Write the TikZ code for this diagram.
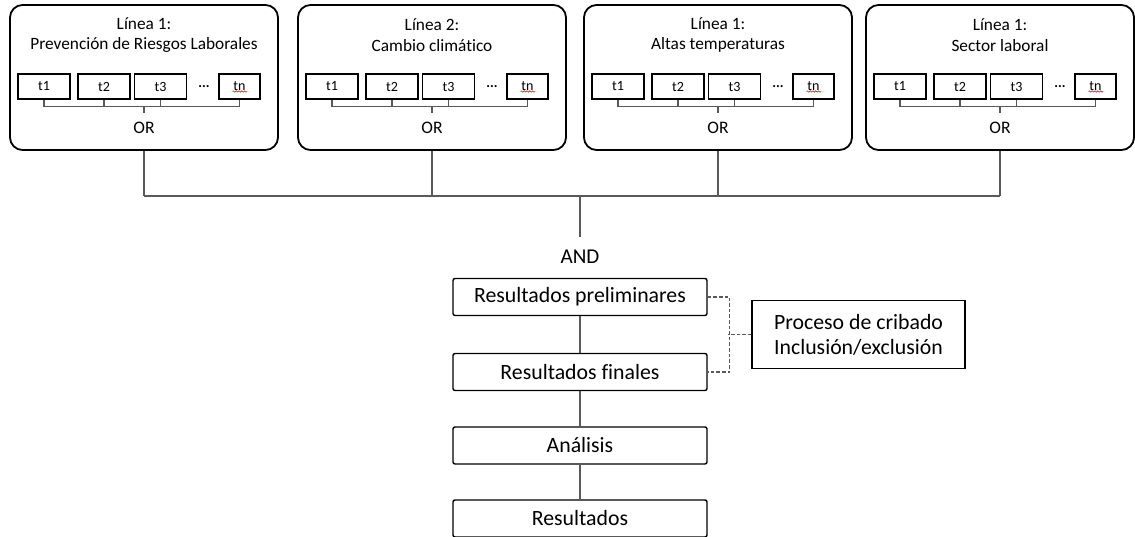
\documentclass[tikz,border=0pt]{standalone}
\usepackage{fontspec}
\setmainfont{Carlito}[Ligatures=CommonOff]
\usetikzlibrary{decorations.pathmorphing}

\definecolor{linegray}{HTML}{595959}

\tikzset{
  linea/.style={rectangle, draw, rounded corners=9pt, line width=1.3pt,
    minimum width=6.7cm, minimum height=3.625cm},
  termino/.style={rectangle, draw, line width=0.8pt, minimum width=1.3cm,
    minimum height=0.625cm, inner sep=0pt, font=\fontsize{10}{12}\selectfont},
  paso/.style={rectangle, draw, rounded corners=1.5pt, line width=1pt,
    minimum width=6.35cm, minimum height=0.925cm, inner sep=0pt,
    font=\fontsize{15.5}{18}\selectfont},
  conector/.style={draw=linegray, line width=1pt},
  cribado/.style={conector, dashed, dash pattern=on 2.5pt off 1.5pt},
}

\begin{document}
\begin{tikzpicture}[x=0.025cm, y=-0.025cm]
  \useasboundingbox (0,0) rectangle (1135,537);

  % search lines with their terms
  \foreach \i/\cx/\tl/\tt in {1/144/Línea 1:/Prevención de Riesgos Laborales,
                              2/432/Línea 2:/Cambio climático,
                              3/718/Línea 1:/Altas temperaturas,
                              4/1000/Línea 1:/Sector laboral} {
    \node (p\i) at (\cx, 77.5) [linea] {};
    \node (p\i title) at (\cx, 35) [align=center, font=\fontsize{12.3}{14.5}\selectfont] {\tl\\\tt};

    \node (p\i t1) at (\cx-100, 86.5) [termino] {t1};
    \node (p\i t2) at (\cx-40, 86.5) [termino] {t2};
    \node (p\i t3) at (\cx+16.5, 86.5) [termino] {t3};
    \node (p\i dots) at (\cx+60, 86.5) [font=\fontsize{10}{12}\selectfont\bfseries] {...};
    \node (p\i tn) at (\cx+95.5, 86.5) [termino, minimum width=1.025cm] {tn};
    \draw[red, line width=0.4pt, decorate,
          decoration={snake, amplitude=0.5pt, segment length=2pt}]
      (\cx+88.5, 91.5) -- (\cx+103, 91.5);

    \draw[conector] (p\i t1.south) -- ++(0,7) -| (p\i tn.south);
    \draw[conector] (p\i t2.south) -- ++(0,7);
    \draw[conector] (p\i t3.south) -- ++(0,7);
    \draw[conector] (\cx, 106) -- (\cx, 113);
    \node (p\i or) at (\cx, 128) [font=\fontsize{12.5}{15}\selectfont] {OR};
  }

  % AND junction
  \coordinate (j) at (580, 196);
  \foreach \i in {1,...,4}
    \draw[conector] (p\i.south) -- (p\i.south |- j);
  \draw[conector] (p1.south |- j) -- (p4.south |- j);
  \node (and) at (580, 257) [font=\fontsize{15}{18}\selectfont] {AND};
  \draw[conector] (j) -- (580, 237);

  % results pipeline
  \node (rp) at (580, 297) [paso] {Resultados preliminares};
  \node (rf) at (580, 372) [paso] {Resultados finales};
  \node (an) at (580, 445.5) [paso] {Análisis};
  \node (re) at (580, 518.5) [paso] {Resultados};

  \draw[conector] (rp) -- (rf);
  \draw[conector] (rf) -- (an);
  \draw[conector] (an) -- (re);

  % screening
  \node (pc) at (858.5, 334.5) [rectangle, draw, line width=0.8pt,
    minimum width=5.325cm, minimum height=1.7cm, align=center,
    font=\fontsize{15.5}{17.8}\selectfont] {Proceso de cribado\\Inclusión/exclusión};

  \draw[cribado] (rp.east) -- ++(22,0) |- (rf.east);
  \draw[cribado] (pc.west) -- ++(-23,0);
\end{tikzpicture}
\end{document}
